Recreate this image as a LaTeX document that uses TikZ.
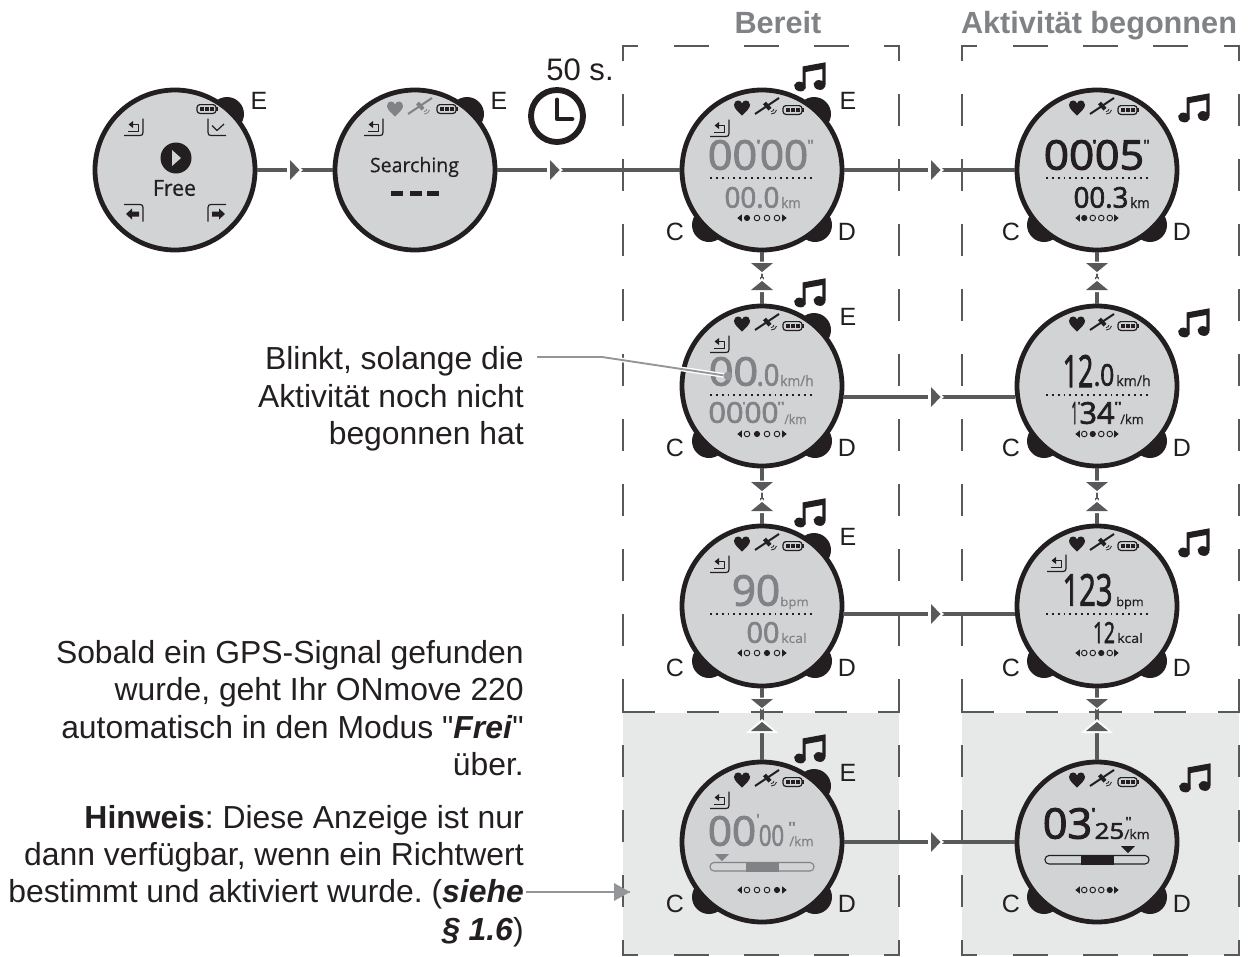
\documentclass[tikz,border=0pt]{standalone}
\usepackage{graphicx}
\usepackage{fontspec}
\setmainfont{Liberation Sans}
\newfontfamily\plainq{Liberation Sans}
\newfontfamily\lcdfont[FakeBold=0.4]{Open Sans}
\newfontfamily\dg[FakeBold=2.4]{Open Sans}
\usetikzlibrary{calc}
\definecolor{ink}{HTML}{231F20}
\definecolor{linegray}{HTML}{58595B}
\definecolor{lcdgray}{HTML}{808285}
\definecolor{leadgray}{HTML}{939598}
\definecolor{screen}{HTML}{D1D3D4}
\definecolor{panel}{HTML}{E7E9E8}
\newcounter{lcdc}
\tikzset{
  watchface/.style={circle,draw=ink,fill=screen,line width=3.6pt,minimum size=120pt,inner sep=0pt},
  conn/.style={draw=linegray,line width=3.1pt},
  frameline/.style={draw=linegray,line width=2.1pt},
  lead/.style={draw=leadgray,line width=1.4pt},
  btnlabel/.style={font=\fontsize{18.75}{20}\selectfont,text=ink,inner sep=0pt},
  bodytext/.style={font=\fontsize{23.9}{28.1}\selectfont\frenchspacing,text=ink,align=right,inner sep=0pt,anchor=east},
  titletext/.style={font=\fontsize{23}{26}\selectfont\bfseries,text=lcdgray,inner sep=0pt,anchor=base},
  dotrow/.style={draw=ink,line width=1.4pt,dash pattern=on 1.4pt off 3pt},
  thinicon/.style={draw=ink,line width=0.9pt,line join=round}
}
% bbox-fitted LCD text
\newcommand\lcd[6][ink]{%
  \stepcounter{lcdc}%
  \pgfmathsetmacro\lcdw{(#3-#2)*0.75}\pgfmathsetmacro\lcdh{(#5-#4)*0.75}%
  \node[inner sep=0pt,text=#1] (lcd\arabic{lcdc}) at ({(#2+#3)/2},{(#4+#5)/2})
    {\resizebox*{\lcdw pt}{\lcdh pt}{\lcdfont\kern-0.05em #6\kern-0.05em}};}
\newcommand\btnE[2]{\fill[ink] (#1+52,#2-56) circle[radius=17];}
\newcommand\btnCD[2]{\fill[ink] (#1-53,#2+55) circle[radius=17];\fill[ink] (#1+53,#2+55) circle[radius=17];}
\newcommand\heart[3]{\begin{scope}[shift={(#1,#2)}]
  \fill[#3] (0,7.5) .. controls (-4,3.5) and (-8,0.5) .. (-8,-3.2) .. controls (-8,-6.2) and (-5.6,-7.5) .. (-4,-7.5) .. controls (-2,-7.5) and (-0.7,-6.5) .. (0,-4.5) .. controls (0.7,-6.5) and (2,-7.5) .. (4,-7.5) .. controls (5.6,-7.5) and (8,-6.2) .. (8,-3.2) .. controls (8,0.5) and (4,3.5) .. (0,7.5) -- cycle;
\end{scope}}
\newcommand\satel[3]{\begin{scope}[shift={(#1,#2)}]
  \draw[#3,line width=1.5pt] (-12,8) -- (12,-8);
  \draw[#3,line width=3pt] (-2.5,-3) -- (3,3.2);
  \draw[#3,line width=0.6pt] (4,8) .. controls (7,8) and (9,6.5) .. (9.5,4);
  \draw[#3,line width=0.6pt] (4,5.5) .. controls (5.5,5.5) and (7,4.5) .. (7,3);
\end{scope}}
\newcommand\batt[2]{\begin{scope}[shift={(#1,#2)}]
  \draw[ink,line width=0.9pt,rounded corners=2.2] (-10,-4.4) rectangle (9,4.4);
  \fill[ink] (9.4,-2) rectangle (10.8,2);
  \fill[ink] (-7.5,-2.4) rectangle (-3.5,2.4);
  \fill[ink] (-2.2,-2.4) rectangle (1.8,2.4);
  \fill[ink] (3,-2.4) rectangle (7,2.4);
\end{scope}}
\newcommand\backicon[2]{\begin{scope}[shift={(#1,#2)}]
  \draw[thinicon] (-10,8.5) -- (6,8.5) .. controls (8,8.5) and (9,7.5) .. (9,5.5) -- (9,-8.5);
  \draw[thinicon] (-6,4.2) -- (4.2,4.2) -- (4.2,-2.5) -- (-2,-2.5);
  \fill[ink] (-5.5,-2.5) -- (-1,-6) -- (-1,1) -- cycle;
\end{scope}}
\newcommand\noteicon[2]{\begin{scope}[shift={(#1,#2)}]
  \fill[ink,rotate around={-14:(-10,9.5)}] (-10,9.5) ellipse[x radius=6,y radius=4.8];
  \fill[ink,rotate around={-14:(9.5,8)}] (9.5,8) ellipse[x radius=6,y radius=4.8];
  \fill[ink] (-7.5,-10.5) -- (15.5,-14.7) -- (15.5,8) -- (12.3,8) -- (12.3,-8) -- (-4.3,-5) -- (-4.3,9.5) -- (-7.5,9.5) -- cycle;
\end{scope}}
\newcommand\pagedots[4]{% x y spacing filled
  \begin{scope}[shift={(#1,#2)}]
  \foreach \k in {1,2,3,4}{
    \pgfmathsetmacro\dx{(\k-2.5)*#3}
    \ifnum\k=#4 \fill[ink] (\dx,0) circle[radius=3.1];
    \else \draw[ink,line width=0.7pt] (\dx,0) circle[radius=2.8];\fi}
  \pgfmathsetmacro\ax{2*#3+0.2}
  \fill[ink] (\ax+4.5,0) -- (\ax,-3.6) -- (\ax,3.6) -- cycle;
  \fill[ink] (-\ax-4.5,0) -- (-\ax,-3.6) -- (-\ax,3.6) -- cycle;
  \end{scope}}
\newcommand\dotted[3]{\draw[dotrow] (#1,#3) -- (#2,#3);}
\newcommand\framedashes[2]{%
  \draw[frameline] (#1,61) -- (#1,46) -- (#1+15,46);
  \draw[frameline] (#2-15,46) -- (#2,46) -- (#2,61);
  \foreach \k in {0,1,2}{\draw[frameline] (#1+51+70*\k,46) -- (#1+86+70*\k,46);
    \draw[frameline] (#1+51+70*\k,955) -- (#1+86+70*\k,955);}
  \foreach \s in {94,159,224,289,354,419,484,549,614}{\draw[frameline] (#1,\s) -- (#1,\s+32);\draw[frameline] (#2,\s) -- (#2,\s+32);}
  \draw[frameline] (#1,679) -- (#1,712) -- (#1+32,712);
  \draw[frameline] (#2,679) -- (#2,712) -- (#2-21,712);
  \foreach \k in {0,1,2}{\draw[frameline] (#1+64+64*\k,712) -- (#1+96+64*\k,712);}
  \foreach \s in {745,810,875}{\draw[frameline] (#1,\s) -- (#1,\s+32);\draw[frameline] (#2,\s) -- (#2,\s+32);}
  \draw[frameline] (#1,940) -- (#1,955) -- (#1+15,955);
  \draw[frameline] (#2-15,955) -- (#2,955) -- (#2,940);}
\newcommand\hmark[2]{%
  \fill[white] (#1-3,#2-13) -- (#1+13,#2) -- (#1-3,#2+13) -- cycle;
  \fill[linegray] (#1,#2-10) -- (#1+9.5,#2) -- (#1,#2+10) -- cycle;}
\newcommand\vmark[3]{% x, base of down triangle, tip of up triangle
  \fill[white] (#1-14,#2-1.5) -- (#1+14,#2-1.5) -- (#1,#2+11) -- cycle;
  \fill[white] (#1-16,#3+11) -- (#1+16,#3+11) -- (#1,#3-3) -- cycle;
  \fill[linegray] (#1-11,#2) -- (#1+11,#2) -- (#1,#2+9) -- cycle;
  \fill[linegray] (#1-11,#3+9) -- (#1+11,#3+9) -- (#1,#3) -- cycle;}
\newcommand\vthin[3]{%
  \fill[white] (#1-4,#2+6) rectangle (#1+4,#3-4);
  \draw[linegray,line width=1.6pt] (#1,#2+6) -- (#1,#3+2);}
\begin{document}
\begin{tikzpicture}[x=0.75pt,y=-0.75pt]
\useasboundingbox (0,0) rectangle (1254,957);
% panels
\fill[panel] (623,713) rectangle (899,955);
\fill[panel] (962,713) rectangle (1239,955);
\framedashes{623}{899}
\framedashes{962}{1239}
% buttons
\btnE{175}{170}\btnE{415}{170}
\foreach \yy in {170,386,606,842}{\btnE{762}{\yy}\btnCD{762}{\yy}\btnCD{1097}{\yy}}
% watch faces
\node[watchface] (w1) at (175,170) {};
\node[watchface] (w2) at (415,170) {};
\node[watchface] (a1) at (762,170) {};
\node[watchface] (a2) at (762,386) {};
\node[watchface] (a3) at (762,606) {};
\node[watchface] (a4) at (762,842) {};
\node[watchface] (b1) at (1097,170) {};
\node[watchface] (b2) at (1097,386) {};
\node[watchface] (b3) at (1097,606) {};
\node[watchface] (b4) at (1097,842) {};
% connector ends that sit off the centre line
\coordinate (r2a) at (843,397);\coordinate (r2b) at (1015,397);
\coordinate (r3a) at (843,614);\coordinate (r3b) at (1015,614);
% connectors
\draw[conn] (w1) -- (w2);
\draw[conn] (w2) -- (a1);
\draw[conn] (a1) -- (b1);
\draw[conn] (r2a) -- (r2b);
\draw[conn] (r3a) -- (r3b);
\draw[conn] (a4) -- (b4);
\draw[conn] (a1) -- (a2);\draw[conn] (a2) -- (a3);\draw[conn] (a3) -- (a4);
\draw[conn] (b1) -- (b2);\draw[conn] (b2) -- (b3);\draw[conn] (b3) -- (b4);
\hmark{290}{170}\hmark{550}{170}\hmark{931}{170}\hmark{931}{397}\hmark{931}{614}\hmark{931}{842}
\foreach \xx in {762,1097}{
  \vthin{\xx}{263}{281}\vthin{\xx}{482}{502}
  \vmark{\xx}{263}{281}\vmark{\xx}{482}{502}\vmark{\xx}{699}{722}}
% redraw dash crossing on the bottom connector
\draw[frameline] (751,712) -- (773,712);
\draw[frameline] (1089,712) -- (1121,712);
% button labels
\node[btnlabel] (e1) at (259,101) {E};
\node[btnlabel] (e2) at (499,101) {E};
\node[btnlabel] (ea1) at (848,101) {E};
\node[btnlabel] (ea2) at (848,317) {E};
\node[btnlabel] (ea3) at (848,537) {E};
\node[btnlabel] (ea4) at (848,773) {E};
\foreach \nn/\yy in {1/232,2/448,3/668,4/904}{
  \node[btnlabel] (ca\nn) at (675,\yy) {C};
  \node[btnlabel] (da\nn) at (847,\yy) {D};
  \node[btnlabel] (cb\nn) at (1011,\yy) {C};
  \node[btnlabel] (db\nn) at (1182,\yy) {D};}
% notes
\noteicon{810}{77}\noteicon{810}{293}\noteicon{810}{513}\noteicon{810}{749}
\noteicon{1194}{108}\noteicon{1194}{323}\noteicon{1194}{543}\noteicon{1195}{778}
% status icons
\batt{207}{109}
\backicon{134}{127}
\begin{scope}[shift={(217,127)}]
  \draw[thinicon] (-9,-8.5) -- (-9,5.5) .. controls (-9,7.5) and (-8,8.5) .. (-6,8.5) -- (9,8.5);
  \draw[thinicon] (-5,-1.5) -- (0,3.5) -- (7,-3);
\end{scope}
\begin{scope}[shift={(134,213)}]
  \draw[thinicon] (-10,-8.5) -- (6,-8.5) .. controls (8,-8.5) and (9,-7.5) .. (9,-5.5) -- (9,8.5);
  \fill[ink] (-8,1) -- (-2,-4.5) -- (-2,-1.5) -- (5,-1.5) -- (5,3.5) -- (-2,3.5) -- (-2,6.5) -- cycle;
\end{scope}
\begin{scope}[shift={(217,213)}]
  \draw[thinicon] (9,-8.5) -- (-6,-8.5) .. controls (-8,-8.5) and (-9,-7.5) .. (-9,-5.5) -- (-9,8.5);
  \fill[ink] (8,1) -- (2,-4.5) -- (2,-1.5) -- (-5,-1.5) -- (-5,3.5) -- (2,3.5) -- (2,6.5) -- cycle;
\end{scope}
\fill[ink] (176,158) circle[radius=15.5];
\fill[screen] (172,150) -- (181,158) -- (172,166) -- cycle;
\lcd{154}{195}{180}{196}{Free}
\heart{395}{109}{lcdgray}\satel{420}{106}{lcdgray}\batt{447}{109}
\backicon{374}{127}
\lcd{371}{458}{157}{177}{Searching}
\fill[ink] (391,190.5) rectangle (403,195.5);
\fill[ink] (410,190.5) rectangle (422,195.5);
\fill[ink] (427,190.5) rectangle (439,195.5);
\foreach \yy in {170,386,606,842}{
  \heart{742}{\the\numexpr\yy-62\relax}{ink}\satel{767}{\the\numexpr\yy-64\relax}{ink}\batt{793}{\the\numexpr\yy-60\relax}
  \backicon{720}{\the\numexpr\yy-42\relax}
  \heart{1077}{\the\numexpr\yy-62\relax}{ink}\satel{1102}{\the\numexpr\yy-64\relax}{ink}\batt{1128}{\the\numexpr\yy-60\relax}}
\backicon{1057}{563}
% --- Bereit column
\lcd[lcdgray]{710}{755}{140}{170}{\dg 00}
\lcd[lcdgray]{757}{760}{140}{150}{\dg '}
\lcd[lcdgray]{762}{806}{140}{170}{\dg 00}
\lcd[lcdgray]{808}{813}{140}{150}{\dg "}
\dotted{710}{813}{178}
\lcd[lcdgray]{726}{778}{187}{208}{\dg 00.0}
\lcd[lcdgray]{782}{800}{197}{208}{km}
\pagedots{762}{218}{10}{1}
\lcd[lcdgray]{711}{756}{357}{386}{\dg 00}
\lcd[lcdgray]{758}{778}{364}{386}{\dg .0}
\lcd[lcdgray]{781}{813}{375}{386}{km/h}
\dotted{710}{813}{395}
\lcd[lcdgray]{710}{742}{402}{423}{\dg 00}
\lcd[lcdgray]{743}{745}{402}{409}{\dg '}
\lcd[lcdgray]{746}{777}{402}{423}{\dg 00}
\lcd[lcdgray]{778}{784}{402}{410}{\dg "}
\lcd[lcdgray]{785}{806}{414}{424}{/km}
\pagedots{762}{434}{10}{2}
\lcd[lcdgray]{734}{778}{575}{606}{\dg 90}
\lcd[lcdgray]{781}{808}{597}{609}{bpm}
\dotted{710}{813}{614}
\lcd[lcdgray]{748}{778}{622}{643}{\dg 00}
\lcd[lcdgray]{782}{806}{633}{643}{kcal}
\pagedots{762}{653}{10}{3}
\lcd[lcdgray]{710}{754}{816}{846}{\dg 00}
\lcd[lcdgray]{757}{759}{814}{825}{\dg '}
\lcd[lcdgray]{760}{783}{825}{846}{\dg 00}
\lcd[lcdgray]{789}{795}{822}{832}{\dg "}
\lcd[lcdgray]{790}{813}{836}{846}{/km}
\fill[lcdgray] (715,854) -- (729,854) -- (722,861) -- cycle;
\draw[lcdgray,line width=0.8pt,rounded corners=3,fill=screen] (710,862.5) rectangle (814,871);
\fill[lcdgray] (746,862) rectangle (779,871.5);
\pagedots{762}{890}{10}{4}
% --- Aktivitaet column
\lcd{1046}{1092}{140}{170}{\dg 00}
\lcd{1093}{1096}{140}{150}{\dg '}
\lcd{1097}{1142}{140}{170}{\dg 05}
\lcd{1144}{1149}{140}{150}{\dg "}
\dotted{1046}{1149}{178}
\lcd{1075}{1127}{187}{208}{\dg 00.3}
\lcd{1131}{1149}{197}{208}{km}
\pagedots{1097}{218}{8.5}{1}
\lcd{1064}{1092}{355}{387}{\dg 12}
\lcd{1095}{1113}{364}{386}{\dg .0}
\lcd{1117}{1150}{375}{386}{km/h}
\dotted{1046}{1149}{395}
\lcd{1072}{1077}{402}{424}{\dg 1}
\lcd{1078}{1080}{402}{409}{\dg '}
\lcd{1081}{1113}{402}{424}{\dg 34}
\lcd{1115}{1121}{402}{410}{\dg "}
\lcd{1121}{1143}{414}{424}{/km}
\pagedots{1097}{434}{8.5}{2}
\lcd{1064}{1111}{574}{606}{\dg 123}
\lcd{1117}{1143}{597}{609}{bpm}
\dotted{1046}{1149}{614}
\lcd{1094}{1114}{622}{643}{\dg 12}
\lcd{1118}{1142}{633}{643}{kcal}
\pagedots{1097}{653}{8.5}{3}
\lcd{1045}{1090}{808}{839}{\dg 03}
\lcd{1092}{1095}{808}{819}{\dg '}
\lcd{1096}{1123}{823}{839}{\dg 25}
\lcd{1126}{1131}{817}{826}{\dg "}
\lcd{1125}{1149}{829}{839}{/km}
\fill[ink] (1121,846) -- (1135,846) -- (1128,853) -- cycle;
\draw[ink,line width=0.8pt,rounded corners=3,fill=screen] (1045,855.5) rectangle (1149,864);
\fill[ink] (1081,855) rectangle (1114,864.5);
\pagedots{1097}{890}{8.5}{4}
% clock
\node[circle,draw=ink,line width=4.4pt,minimum size=39pt,inner sep=0pt] (clock) at (557,116) {};
\draw[ink,line width=3.6pt,line cap=round,line join=round] (557,100) -- (557,119) -- (572,119);
% texts
\node[font=\fontsize{23.3}{26}\selectfont,text=ink,inner sep=0pt] (sec) at (580,70) {50 s.};
\node[titletext] (t1) at (778,33.5) {Bereit};
\node[titletext] (t2) at (1099,33.5) {Aktivität begonnen};
\node[bodytext] (bl) at (524,399) {Blinkt, solange die\\Aktivität noch nicht\\begonnen hat};
\node[bodytext] (so) at (524,708) {Sobald ein GPS-Signal gefunden\\wurde, geht Ihr ONmove 220\\automatisch in den Modus {\plainq "}\textbf{\textit{Frei}}{\plainq "}\\über.};
\node[bodytext] (hi) at (524,876) {\textbf{Hinweis}: Diese Anzeige ist nur\\dann verfügbar, wenn ein Richtwert\\bestimmt und aktiviert wurde. (\textbf{\textit{siehe}}\\\textbf{\textit{§ 1.6}})};
% leaders
\coordinate (bs) at (537,357);\coordinate (bm) at (602,357);
\node[circle,fill=leadgray,minimum size=6.5pt,inner sep=0pt] (bd) at (728,376) {};
\draw[white,line width=3.5pt] (bm) -- (bd);
\draw[lead] (bs) -- (bm) -- (bd);
\coordinate (ss) at (526,892);\coordinate (st) at (630,892);
\draw[lead] (ss) -- (st);
\fill[leadgray] (st) -- (614,883) -- (614,901) -- cycle;
\end{tikzpicture}
\end{document}
